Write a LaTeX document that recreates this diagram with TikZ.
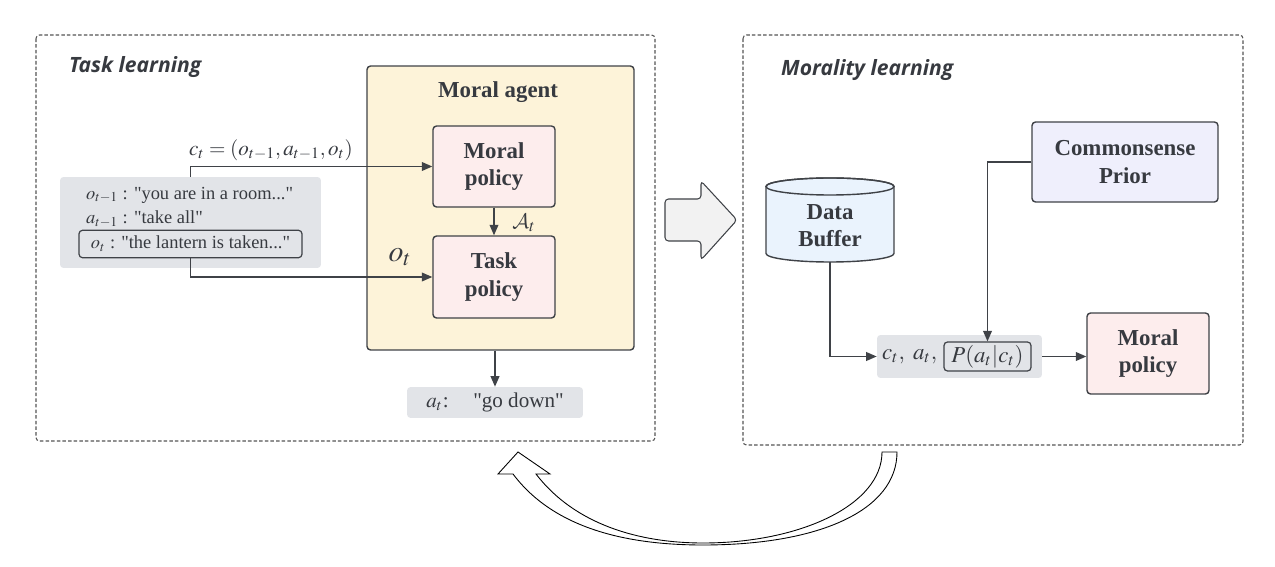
\documentclass[tikz,border=0pt]{standalone}
\usepackage{mathptmx}
\DeclareMathAlphabet{\mathcal}{OMS}{cmsy}{m}{n}
\usepackage{fontspec}
\setmainfont{Liberation Serif}[Ligatures=TeXOff]
\newfontfamily\titlefont{Open Sans}
\usetikzlibrary{arrows.meta}
\definecolor{textgray}{HTML}{373A40}
\definecolor{linegray}{HTML}{3F4247}
\definecolor{framegray}{HTML}{555555}
\definecolor{boxgray}{HTML}{E2E4E8}
\definecolor{agentyellow}{HTML}{FDF3D9}
\definecolor{policypink}{HTML}{FDEDED}
\definecolor{priorblue}{HTML}{EFEFFC}
\definecolor{bufferblue}{HTML}{EAF3FD}
\definecolor{arrowgray}{HTML}{F2F2F2}
\begin{document}
\begin{tikzpicture}[x=0.02cm,y=-0.02cm,
    every node/.style={text=textgray, font=\fontsize{10.5}{12}\selectfont},
    frame/.style={draw=framegray, dash pattern=on 2pt off 1.2pt, rounded corners=2pt, line width=0.6pt},
    pbox/.style={draw=linegray, line width=0.8pt, rounded corners=2pt, align=center,
        font=\fontsize{13}{15.5}\selectfont\bfseries},
    gbox/.style={fill=boxgray, rounded corners=2pt},
    conn/.style={draw=linegray, line width=0.8pt, -{Triangle[length=6pt,width=5pt]}},
    titletext/.style={font=\titlefont\bfseries\itshape\fontsize{12}{14}\selectfont, anchor=west},
    ]
    \useasboundingbox (0,0) rectangle (1275,567);

    % frames
    \draw[frame] (36,35) rectangle (655,441);
    \draw[frame] (743,35) rectangle (1243,445);
    \node[titletext] (tasktitle) at (63,67) {Task learning};
    \node[titletext] (moraltitle) at (775,70) {Morality learning};

    % task learning
    \node[pbox, fill=agentyellow, minimum width=5.34cm, minimum height=5.68cm] (agent) at (500.5,208) {};
    \node[pbox, draw=none] (agenttitle) at (498,92) {Moral agent};
    \node[pbox, fill=policypink, minimum width=2.44cm, minimum height=1.62cm] (mpolicy) at (494,166.5) {Moral\\policy};
    \node[pbox, fill=policypink, minimum width=2.44cm, minimum height=1.64cm] (tpolicy) at (494,277) {Task\\policy};

    \node[gbox, minimum width=5.22cm, minimum height=1.82cm] (obs) at (190.5,222.5) {};
    \node[anchor=west] (prevobs) at (80,195) {$o_{t-1}$ : "you are in a room..."};
    \node[anchor=west] (prevact) at (80,219) {$a_{t-1}$ : "take all"};
    \node[draw=linegray, line width=0.7pt, rounded corners=2pt, minimum width=4.46cm, minimum height=0.52cm] (curobs) at (190.5,244) {$o_t$ : "the lantern is taken..."};

    \node[font=\fontsize{12}{14}\selectfont] (ctlabel) at (271,150) {$c_t = (o_{t-1}, a_{t-1}, o_t)$};
    \draw[conn] (obs.north) |- (mpolicy.west);
    \draw[conn] (curobs.south) |- (tpolicy.west);
    \draw[conn] (mpolicy.south) -- (tpolicy.north);
    \node[font=\fontsize{13}{15}\selectfont] (Alabel) at (524,223) {$\mathcal{A}_t$};
    \node[font=\fontsize{17}{19}\selectfont] (otlabel) at (400,257) {$o_t$};

    \node[gbox, minimum width=3.52cm, minimum height=0.58cm, font=\fontsize{12}{14}\selectfont] (act) at (495,402.5) {$a_t$:\hspace{14pt}"go down"};
    \draw[conn] (act.north |- agent.south) -- (act.north);

    % block arrow
    \draw[fill=arrowgray, draw=linegray, rounded corners=2pt, line width=0.6pt] (665,199) -- (701,199) -- (701,181) -- (737,220) -- (701,260) -- (701,241) -- (665,241) -- cycle;

    % morality learning
    \node[pbox, fill=priorblue, minimum width=3.72cm, minimum height=1.6cm] (prior) at (1125,162) {Commonsense\\Prior};
    \draw[fill=bufferblue, draw=linegray, line width=0.8pt] (766,186.5) -- (766,253.5)
        arc[start angle=180, end angle=360, x radius=1.28cm, y radius=0.17cm] -- (894,186.5)
        arc[start angle=0, end angle=180, x radius=1.28cm, y radius=0.17cm] -- cycle;
    \draw[draw=linegray, line width=0.8pt] (830,186.5) ellipse [x radius=1.28cm, y radius=0.17cm];
    \node[minimum width=2.56cm, minimum height=1.68cm] (buffer) at (830,220) {};
    \node[pbox, draw=none] (buffertext) at (830,226) {Data\\Buffer};

    \node[gbox, minimum width=3.3cm, minimum height=0.86cm] (sample) at (959.5,356.5) {};
    \node[draw=linegray, line width=0.7pt, rounded corners=2pt, minimum width=1.74cm, minimum height=0.58cm, inner sep=0pt, font=\fontsize{13}{15}\selectfont] (prob) at (987.5,356.5) {$P(a_t|c_t)$};
    \node[anchor=east, font=\fontsize{13}{15}\selectfont] (sampletext) at (prob.west) {$c_t,\ a_t,$};
    \node[pbox, fill=policypink, minimum width=2.44cm, minimum height=1.62cm] (rpolicy) at (1148,353.5) {Moral\\policy};

    \draw[conn] (prior.west) -| (prob.north);
    \draw[conn] (buffer.south) |- (sample.west);
    \draw[conn] (sample.east) -- (sample.east -| rpolicy.west);

    % curved arrow back
    \draw[fill=white, draw=black, line width=0.5pt] (897,452)
        .. controls (897,510) and (820,545) .. (703,545)
        .. controls (630,545) and (555,530) .. (513,474)
        -- (498,474) -- (518,452) -- (550,474) -- (536,474)
        .. controls (575,525) and (640,543) .. (703,543)
        .. controls (800,543) and (882,505) .. (882,452) -- cycle;
\end{tikzpicture}
\end{document}
